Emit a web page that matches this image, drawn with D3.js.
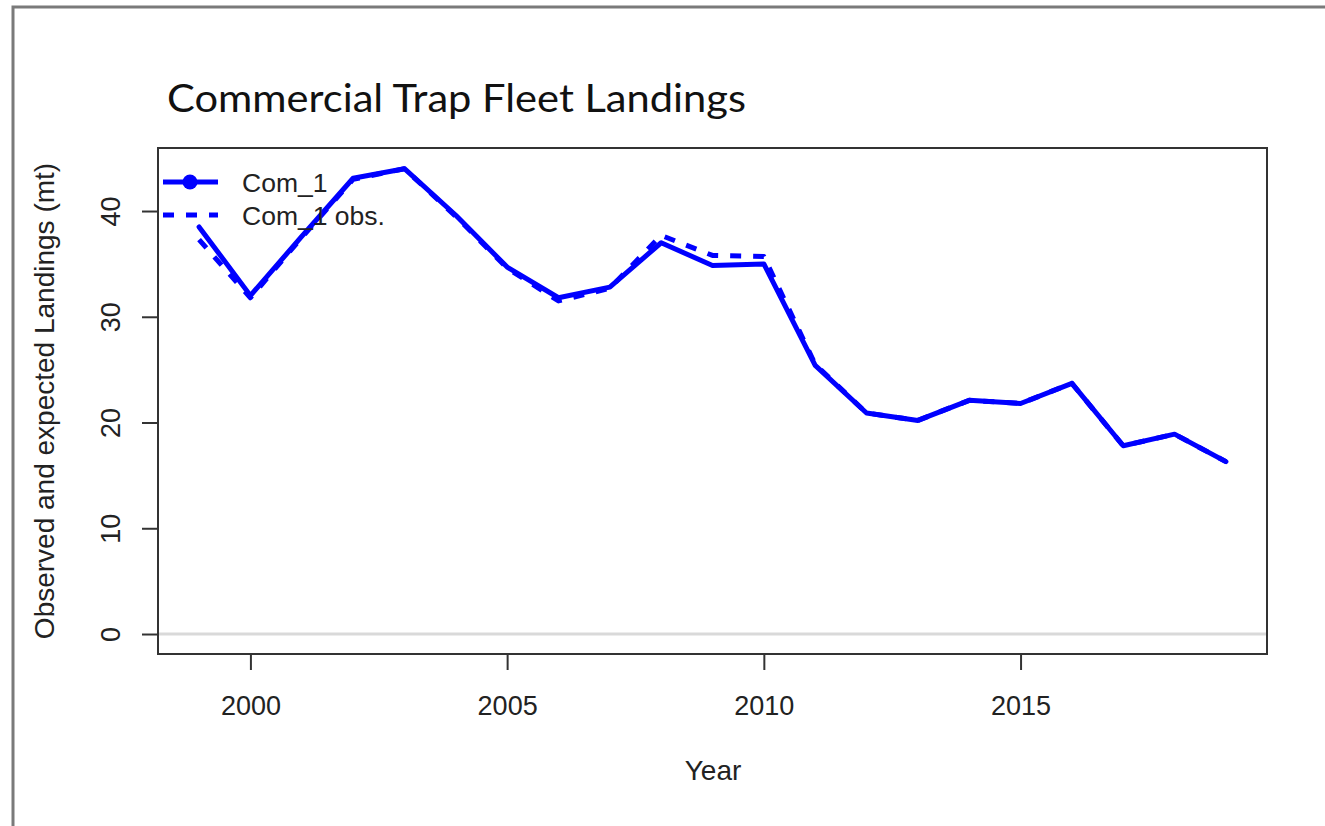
<!DOCTYPE html>
<html>
<head>
<meta charset="utf-8">
<script src="https://cdn.jsdelivr.net/npm/d3@7"></script>
<style>
  html, body { margin: 0; padding: 0; background: #fff; }
  svg { display: block; }
</style>
</head>
<body>
<svg id="chart" width="1325" height="826"></svg>
<script>
// ---- data ----
const years = [1999, 2000, 2001, 2002, 2003, 2004, 2005, 2006, 2007, 2008, 2009,
               2010, 2011, 2012, 2013, 2014, 2015, 2016, 2017, 2018, 2019];
const expected = [38.5, 32.0, 37.6, 43.1, 44.0, 39.6, 34.7, 31.8, 32.8, 37.0, 34.85,
                  35.0, 25.4, 20.9, 20.2, 22.1, 21.8, 23.7, 17.8, 18.9, 16.3];
const observed = [37.3, 31.8, 37.5, 43.0, 44.0, 39.5, 34.6, 31.5, 32.7, 37.7, 35.8,
                  35.7, 25.5, 20.9, 20.2, 22.1, 21.8, 23.7, 17.8, 18.9, 16.3];
const yTicks = [0, 10, 20, 30, 40];
const xTicks = [2000, 2005, 2010, 2015];
const titleText = "Commercial Trap Fleet Landings";
const xTitle = "Year";
const yTitle = "Observed and expected Landings (mt)";
const legendLabels = ["Com_1", "Com_1 obs."];

// ---- layout ----
const plot = { left: 158, right: 1267, top: 148, bottom: 654 };
const blue = "#0000ff";
const svg = d3.select("#chart");

// outer page frame
svg.append("path")
  .attr("d", "M13,826 L13,7 L1325,7")
  .attr("fill", "none").attr("stroke", "#7a7a7a").attr("stroke-width", 3);

const x = d3.scaleLinear().domain([1998.2, 2019.8]).range([plot.left, plot.right]);
const y = d3.scaleLinear().domain([-1.89, 45.96]).range([plot.bottom, plot.top]);

// title
svg.append("text")
  .attr("x", 167).attr("y", 112)
  .attr("font-family", "Lato, 'Open Sans', sans-serif")
  .attr("font-size", 38)
  .attr("fill", "#111")
  .attr("textLength", 579).attr("lengthAdjust", "spacingAndGlyphs")
  .text(titleText);

// zero reference line
svg.append("line")
  .attr("x1", plot.left).attr("x2", plot.right)
  .attr("y1", y(0)).attr("y2", y(0))
  .attr("stroke", "#d9d9d9").attr("stroke-width", 3);

// lines
const line = d3.line().x((d, i) => x(years[i])).y(d => y(d));
svg.append("path").datum(observed)
  .attr("d", line).attr("fill", "none")
  .attr("stroke", blue).attr("stroke-width", 5)
  .attr("stroke-dasharray", "11,12")
  .attr("stroke-linejoin", "round");
svg.append("path").datum(expected)
  .attr("d", line).attr("fill", "none")
  .attr("stroke", blue).attr("stroke-width", 5)
  .attr("stroke-linejoin", "round").attr("stroke-linecap", "round");

// plot box
svg.append("rect")
  .attr("x", plot.left).attr("y", plot.top)
  .attr("width", plot.right - plot.left).attr("height", plot.bottom - plot.top)
  .attr("fill", "none").attr("stroke", "#333").attr("stroke-width", 2);

const font = "'Liberation Sans', Arial, sans-serif";

// y axis
const gy = svg.append("g").attr("transform", `translate(${plot.left},0)`)
  .call(d3.axisLeft(y).tickValues(yTicks).tickSize(16).tickSizeOuter(0).tickFormat(d3.format("d")));
gy.select(".domain").remove();
gy.selectAll(".tick line").attr("stroke", "#333").attr("stroke-width", 2);
gy.selectAll(".tick text")
  .attr("font-family", font).attr("font-size", 27).attr("fill", "#222")
  .attr("x", null).attr("dy", null)
  .attr("text-anchor", "middle")
  .attr("transform", "translate(-38,0) rotate(-90)");

// x axis
const gx = svg.append("g").attr("transform", `translate(0,${plot.bottom})`)
  .call(d3.axisBottom(x).tickValues(xTicks).tickSize(16).tickSizeOuter(0).tickFormat(d3.format("d")));
gx.select(".domain").remove();
gx.selectAll(".tick line").attr("stroke", "#333").attr("stroke-width", 2);
gx.selectAll(".tick text")
  .attr("font-family", font).attr("font-size", 27).attr("fill", "#222")
  .attr("y", 61).attr("dy", null);

// axis titles
svg.append("text")
  .attr("x", 713).attr("y", 780)
  .attr("text-anchor", "middle")
  .attr("font-family", font).attr("font-size", 28).attr("fill", "#222")
  .text(xTitle);
svg.append("text")
  .attr("transform", `translate(54,${(plot.top + plot.bottom) / 2}) rotate(-90)`)
  .attr("text-anchor", "middle")
  .attr("font-family", font).attr("font-size", 28).attr("fill", "#222")
  .text(yTitle);

// legend
const lg = svg.append("g");
const legY = [182, 215];
lg.append("line").attr("x1", 163).attr("x2", 218).attr("y1", legY[0]).attr("y2", legY[0])
  .attr("stroke", blue).attr("stroke-width", 5);
lg.append("circle").attr("cx", 190).attr("cy", legY[0]).attr("r", 7.5).attr("fill", blue);
lg.append("line").attr("x1", 163).attr("x2", 218).attr("y1", legY[1]).attr("y2", legY[1])
  .attr("stroke", blue).attr("stroke-width", 5).attr("stroke-dasharray", "11,12");
lg.append("path").attr("d", d3.symbol(d3.symbolTimes, 200)())
  .attr("transform", `translate(190,${legY[1] - 2})`)
  .attr("fill", blue);
lg.selectAll("text.leg").data(legendLabels).join("text")
  .attr("class", "leg")
  .attr("x", 242).attr("y", (d, i) => legY[i] + 10)
  .attr("font-family", font).attr("font-size", 26.5).attr("fill", "#222")
  .text(d => d);
</script>
</body>
</html>
